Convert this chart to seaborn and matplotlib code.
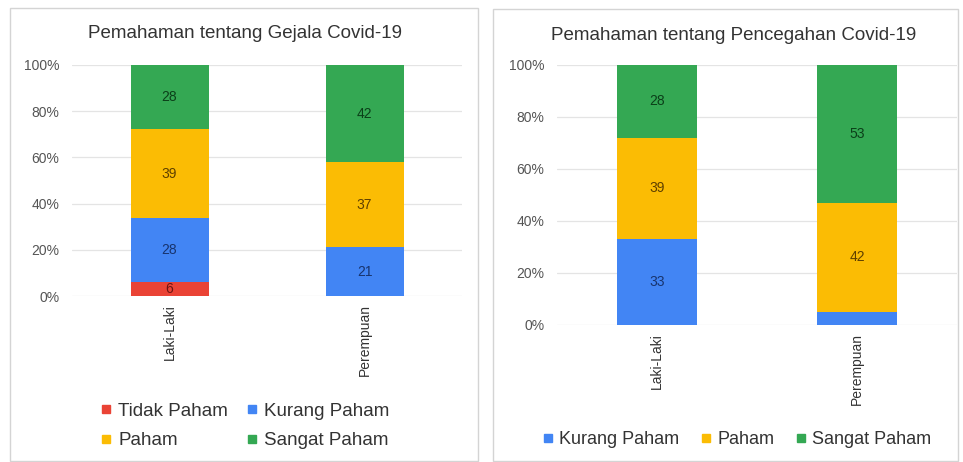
import matplotlib
matplotlib.use("Agg")
import matplotlib.pyplot as plt
import seaborn as sns
import numpy as np
import pandas as pd
from matplotlib.patches import Rectangle
from matplotlib.lines import Line2D

# ---------------- data ----------------
categories = ["Laki-Laki", "Perempuan"]

gejala_title = "Pemahaman tentang Gejala Covid-19"
gejala_levels = ["Tidak Paham", "Kurang Paham", "Paham", "Sangat Paham"]
gejala_tidak = [6, 0]
gejala_kurang = [28, 21]
gejala_paham = [39, 37]
gejala_sangat = [28, 42]
gejala_labels = [["6", ""], ["28", "21"], ["39", "37"], ["28", "42"]]

pencegahan_title = "Pemahaman tentang Pencegahan Covid-19"
pencegahan_levels = ["Kurang Paham", "Paham", "Sangat Paham"]
pencegahan_kurang = [33, 5]
pencegahan_paham = [39, 42]
pencegahan_sangat = [28, 53]
pencegahan_labels = [["33", ""], ["39", "42"], ["28", "53"]]

yticks = [0, 20, 40, 60, 80, 100]
ytick_labels = ["0%", "20%", "40%", "60%", "80%", "100%"]

colors = {"Tidak Paham": "#EA4335", "Kurang Paham": "#4285F4",
          "Paham": "#FBBC04", "Sangat Paham": "#34A853"}
label_colors = {"Tidak Paham": "#6e1410", "Kurang Paham": "#18346e",
                "Paham": "#5e4000", "Sangat Paham": "#0b3f19"}

# ---------------- style ----------------
sns.set_theme(style="white")
plt.rcParams["font.family"] = ["Liberation Sans", "DejaVu Sans"]

W, H = 963, 462
fig = plt.figure(figsize=(W / 100, H / 100), dpi=100)
fig.patch.set_facecolor("white")


def px_axes(x0, y_top, x1, y_bottom):
    return fig.add_axes([x0 / W, 1 - y_bottom / H, (x1 - x0) / W, (y_bottom - y_top) / H])


def draw(ax, levels, series, labels):
    vals = np.array(series, dtype=float)
    pct = vals / vals.sum(axis=0) * 100
    cum = np.cumsum(pct, axis=0)
    for i in range(len(levels) - 1, -1, -1):
        df = pd.DataFrame({"cat": categories, "v": cum[i]})
        sns.barplot(data=df, x="cat", y="v", order=categories, color=colors[levels[i]],
                    saturation=1, width=0.4, linewidth=0, errorbar=None, ax=ax, zorder=2)
    for i, lev in enumerate(levels):
        for j in range(len(categories)):
            if labels[i][j]:
                ax.text(j, cum[i, j] - pct[i, j] / 2, labels[i][j], ha="center", va="center",
                        fontsize=10, color=label_colors[lev], zorder=3)
    ax.set_ylim(0, 100)
    ax.set_yticks(yticks)
    ax.set_yticklabels(ytick_labels, fontsize=10, color="#555555")
    ax.set_xticks(range(len(categories)))
    ax.set_xticklabels(categories, rotation=90, fontsize=10, color="#333333")
    ax.set_xlabel("")
    ax.set_ylabel("")
    ax.yaxis.grid(True, color="#e4e4e4", linewidth=0.9, zorder=0)
    ax.xaxis.grid(False)
    ax.set_axisbelow(True)
    for s in ax.spines.values():
        s.set_visible(False)
    ax.tick_params(axis="both", length=0)
    ax.tick_params(axis="y", pad=9)
    ax.tick_params(axis="x", pad=6)


# panel borders
fig.patches.append(Rectangle((10 / W, 1 - 461 / H), 468 / W, 453 / H, transform=fig.transFigure,
                             fill=False, edgecolor="#d4d4d4", linewidth=1.0))
fig.patches.append(Rectangle((493 / W, 1 - 461 / H), 465 / W, 452 / H, transform=fig.transFigure,
                             fill=False, edgecolor="#d4d4d4", linewidth=1.0))

# left panel
ax1 = px_axes(72, 65, 462, 296)
draw(ax1, gejala_levels, [gejala_tidak, gejala_kurang, gejala_paham, gejala_sangat], gejala_labels)
fig.text(245 / W, 1 - 33 / H, gejala_title, ha="center", va="center", fontsize=13.5, color="#333333")

# right panel
ax2 = px_axes(557, 65, 957, 325)
draw(ax2, pencegahan_levels, [pencegahan_kurang, pencegahan_paham, pencegahan_sangat], pencegahan_labels)
fig.text(734 / W, 1 - 35 / H, pencegahan_title, ha="center", va="center", fontsize=13.5, color="#333333")


def handle(lev):
    return Line2D([], [], linestyle="none", marker="s", markersize=6,
                  markerfacecolor=colors[lev], markeredgecolor=colors[lev])


# left legend (row-wise order)
order_left = [gejala_levels[0], gejala_levels[2], gejala_levels[1], gejala_levels[3]]
fig.legend([handle(l) for l in order_left], order_left, ncol=2, loc="center",
           bbox_to_anchor=(245 / W, 1 - 426 / H), frameon=False, fontsize=13.5,
           handlelength=0.6, handletextpad=0.35, columnspacing=1.0, labelspacing=0.65,
           labelcolor="#333333")

# right legend
fig.legend([handle(l) for l in pencegahan_levels], pencegahan_levels, ncol=3, loc="center",
           bbox_to_anchor=(737 / W, 1 - 440 / H), frameon=False, fontsize=13,
           handlelength=0.6, handletextpad=0.3, columnspacing=1.2,
           labelcolor="#333333")

fig.savefig("out.png", dpi=100)
